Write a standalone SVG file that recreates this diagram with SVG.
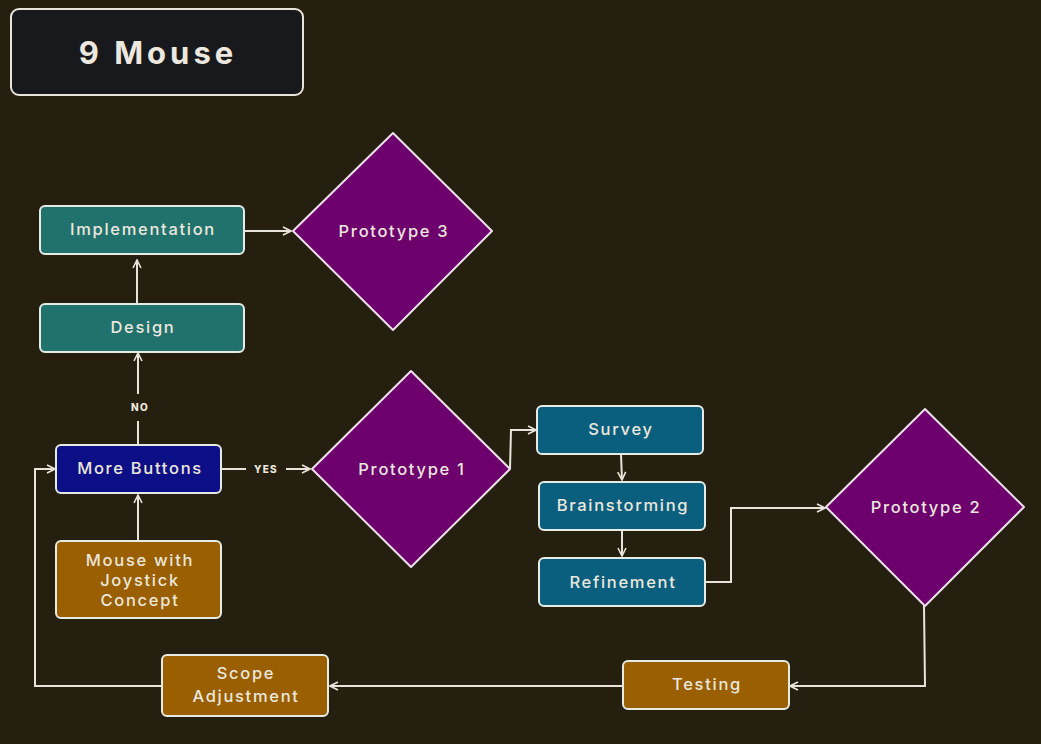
<svg xmlns="http://www.w3.org/2000/svg" width="1041" height="744" viewBox="0 0 1041 744">
<defs>
<marker id="ah" viewBox="0 0 10 10" refX="9" refY="5" markerWidth="10" markerHeight="10" markerUnits="userSpaceOnUse" orient="auto">
<path d="M1,1 L9,5 L1,9" fill="none" stroke="#e8e4da" stroke-width="1.6"/>
</marker>
<style>
.box{stroke:#e6ebe3;stroke-width:2}
.t{font-family:Inter,"Open Sans","DejaVu Sans",sans-serif;font-size:16.5px;font-weight:500;fill:#ece8df;text-anchor:middle;dominant-baseline:central;letter-spacing:1.7px}
.lbl{font-family:Inter,"DejaVu Sans",sans-serif;font-size:10px;font-weight:800;fill:#ece8df;text-anchor:middle;dominant-baseline:central;letter-spacing:1.2px}
.c{fill:none;stroke:#e8e4da;stroke-width:2}
.teal{fill:#21716c}
.blue{fill:#0a5f7e}
.navy{fill:#0c0f85}
.brown{fill:#9a5f00}
.dia{fill:#6e006e;stroke:#f0e0ea;stroke-width:2;stroke-linejoin:round}
</style>
</defs>
<rect width="1041" height="744" fill="#251f0f"/>
<g id="title">
<rect x="11" y="9" width="292" height="86" rx="8" fill="#18191c" stroke="#e8e4da" stroke-width="2"/>
<text x="158" y="52" style="font-family:Inter,'DejaVu Sans',sans-serif;font-size:31px;font-weight:700;fill:#ece8df;text-anchor:middle;dominant-baseline:central;letter-spacing:4px">9 Mouse</text>
</g>
<g id="connectors">
<line class="c" x1="244" y1="231" x2="291" y2="231" marker-end="url(#ah)"/>
<line class="c" x1="137" y1="304" x2="137" y2="260" marker-end="url(#ah)"/>
<line class="c" x1="138" y1="445" x2="138" y2="421"/>
<line class="c" x1="138" y1="394" x2="138" y2="353" marker-end="url(#ah)"/>
<text class="lbl" x="140" y="407">NO</text>
<line class="c" x1="138" y1="541" x2="138" y2="495" marker-end="url(#ah)"/>
<line class="c" x1="221" y1="469" x2="246" y2="469"/>
<line class="c" x1="286" y1="469" x2="310" y2="469" marker-end="url(#ah)"/>
<text class="lbl" x="266" y="469">YES</text>
<polyline class="c" points="510,469 511,430 536,430" marker-end="url(#ah)"/>
<line class="c" x1="621" y1="454" x2="622" y2="480" marker-end="url(#ah)"/>
<line class="c" x1="622" y1="530" x2="622" y2="556" marker-end="url(#ah)"/>
<polyline class="c" points="705,582 731,582 731,508 825,508" marker-end="url(#ah)"/>
<polyline class="c" points="924,606 925,686 790,686" marker-end="url(#ah)"/>
<line class="c" x1="623" y1="686" x2="330" y2="686" marker-end="url(#ah)"/>
<polyline class="c" points="162,686 35,686 35,469 55,469" marker-end="url(#ah)"/>
</g>
<g id="implementation">
<rect class="box teal" x="40" y="206" width="204" height="48" rx="5"/>
<text class="t" x="143" y="229">Implementation</text>
</g>
<g id="design">
<rect class="box teal" x="40" y="304" width="204" height="48" rx="5"/>
<text class="t" x="143" y="327">Design</text>
</g>
<g id="prototype3">
<polygon class="dia" points="393,133 492,231 393,330 293,231"/>
<text class="t" x="394" y="231">Prototype 3</text>
</g>
<g id="more-buttons">
<rect class="box navy" x="56" y="445" width="165" height="48" rx="5"/>
<text class="t" x="140" y="468">More Buttons</text>
</g>
<g id="joystick">
<rect class="box brown" x="56" y="541" width="165" height="77" rx="5"/>
<text class="t" x="140" y="560">Mouse with</text>
<text class="t" x="140" y="580">Joystick</text>
<text class="t" x="140" y="600">Concept</text>
</g>
<g id="prototype1">
<polygon class="dia" points="411,371 510,469 411,567 312,469"/>
<text class="t" x="412" y="469">Prototype 1</text>
</g>
<g id="survey">
<rect class="box blue" x="537" y="406" width="166" height="48" rx="5"/>
<text class="t" x="621" y="429">Survey</text>
</g>
<g id="brainstorming">
<rect class="box blue" x="539" y="482" width="166" height="48" rx="5"/>
<text class="t" x="623" y="505">Brainstorming</text>
</g>
<g id="refinement">
<rect class="box blue" x="539" y="558" width="166" height="48" rx="5"/>
<text class="t" x="623" y="582">Refinement</text>
</g>
<g id="prototype2">
<polygon class="dia" points="925,409 1024,507 925,606 826,507"/>
<text class="t" x="926" y="507">Prototype 2</text>
</g>
<g id="testing">
<rect class="box brown" x="623" y="661" width="166" height="48" rx="5"/>
<text class="t" x="707" y="684">Testing</text>
</g>
<g id="scope">
<rect class="box brown" x="162" y="655" width="166" height="61" rx="5"/>
<text class="t" x="246" y="673">Scope</text>
<text class="t" x="246" y="696">Adjustment</text>
</g>
</svg>
